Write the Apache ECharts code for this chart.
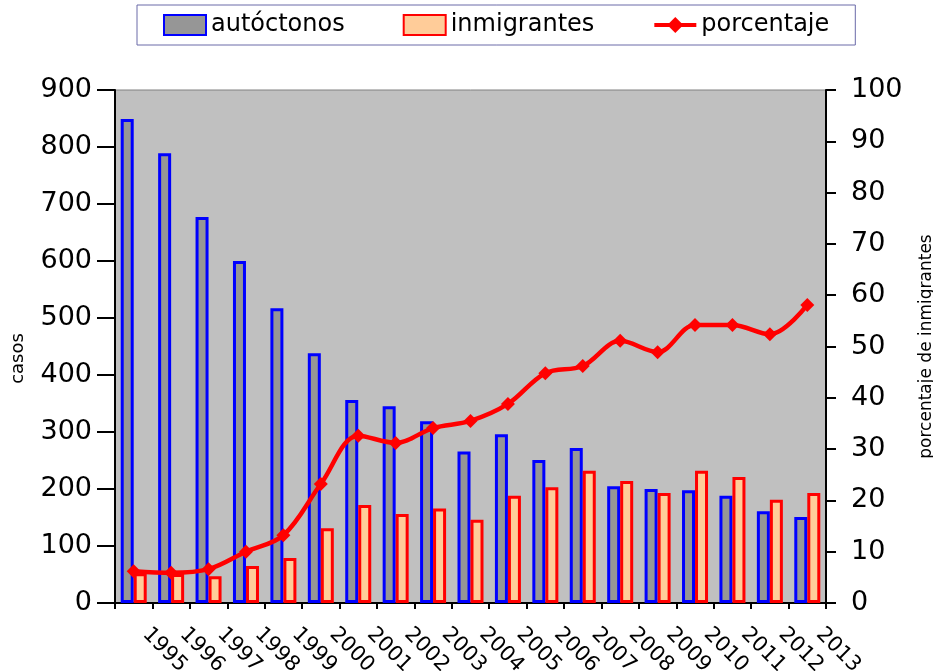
<!DOCTYPE html>
<html>
<head>
<meta charset="utf-8">
<script src="https://cdn.jsdelivr.net/npm/echarts@6/dist/echarts.min.js"></script>
<style>
  html, body { margin: 0; padding: 0; background: #fff; }
  #chart { width: 933px; height: 671px; }
</style>
</head>
<body>
<div id="chart"></div>
<script>
  // years on the x axis
  var years = ['1995', '1996', '1997', '1998', '1999', '2000', '2001', '2002', '2003', '2004',
    '2005', '2006', '2007', '2008', '2009', '2010', '2011', '2012', '2013']
  // casos (left axis)
  var autoctonos = [849, 789, 677, 600, 517, 438, 356, 345, 319, 266,
    296, 251, 272, 205, 200, 198, 188, 161, 151]
  var inmigrantes = [52, 51, 47, 65, 79, 131, 172, 156, 166, 146,
    188, 203, 232, 214, 193, 232, 221, 181, 193]
  // porcentaje de inmigrantes (right axis)
  var porcentaje = [6.2, 5.9, 6.6, 10.0, 13.2, 23.2, 32.6, 31.2, 34.1, 35.5,
    38.8, 44.8, 46.2, 51.1, 48.9, 54.2, 54.2, 52.4, 58.1]

  var font = 'DejaVu Sans, Verdana, sans-serif'
  var chart = echarts.init(document.getElementById('chart'))

  chart.setOption({
    animation: false,
    textStyle: { fontFamily: font, color: '#000' },
    legend: {
      left: 137,
      top: 5,
      padding: [8, 26],
      itemGap: 58,
      itemWidth: 42,
      itemHeight: 20,
      borderColor: '#6a6aa8',
      borderWidth: 1,
      textStyle: { fontSize: 24, fontFamily: font, color: '#000' },
      data: [
        { name: 'autóctonos', icon: 'rect' },
        { name: 'inmigrantes', icon: 'rect' },
        { name: 'porcentaje', lineStyle: { width: 4 } }
      ]
    },
    grid: {
      left: 115,
      right: 107,
      top: 90,
      bottom: 68,
      outerBoundsMode: 'none',
      containLabel: false,
      show: true,
      backgroundColor: '#C0C0C0',
      borderColor: '#808080',
      borderWidth: 1
    },
    xAxis: {
      type: 'category',
      data: years,
      boundaryGap: true,
      axisLine: { lineStyle: { color: '#000', width: 2 } },
      axisTick: { show: true, interval: 0, length: 6, lineStyle: { color: '#000', width: 2 } },
      axisLabel: {
        interval: 0,
        rotate: -45,
        margin: 16,
        padding: [0, 0, 0, 17],
        fontSize: 21,
        color: '#000'
      }
    },
    yAxis: [
      {
        type: 'value',
        min: 0,
        max: 900,
        interval: 100,
        name: 'casos',
        nameLocation: 'middle',
        nameRotate: 90,
        nameGap: 88,
        nameTextStyle: { fontSize: 18, color: '#000', padding: [0, 24, 0, 0] },
        splitLine: { show: false },
        axisLine: { show: true, lineStyle: { color: '#000', width: 2 } },
        axisTick: { show: true, length: 18, lineStyle: { color: '#000', width: 2 } },
        axisLabel: { fontSize: 27, margin: 23, color: '#000' }
      },
      {
        type: 'value',
        min: 0,
        max: 100,
        interval: 10,
        name: 'porcentaje de inmigrantes',
        nameLocation: 'middle',
        nameRotate: 90,
        nameGap: 92,
        nameTextStyle: { fontSize: 17, color: '#000' },
        splitLine: { show: false },
        axisLine: { show: true, lineStyle: { color: '#000', width: 2 } },
        axisTick: { show: true, length: 10, lineStyle: { color: '#000', width: 2 } },
        axisLabel: { fontSize: 27, margin: 25, color: '#000' }
      }
    ],
    series: [
      {
        name: 'autóctonos',
        type: 'bar',
        barWidth: 13,
        barGap: '0%',
        itemStyle: { color: '#969696', borderColor: '#0000FF', borderWidth: 3 },
        data: autoctonos
      },
      {
        name: 'inmigrantes',
        type: 'bar',
        barWidth: 13,
        barGap: '0%',
        itemStyle: { color: '#FFCC99', borderColor: '#FF0000', borderWidth: 3 },
        data: inmigrantes
      },
      {
        name: 'porcentaje',
        type: 'line',
        yAxisIndex: 1,
        smooth: 0.35,
        symbol: 'diamond',
        symbolSize: 14,
        color: '#FF0000',
        lineStyle: { width: 4.5, color: '#FF0000' },
        itemStyle: { color: '#FF0000' },
        z: 5,
        data: porcentaje
      }
    ]
  })
</script>
</body>
</html>
